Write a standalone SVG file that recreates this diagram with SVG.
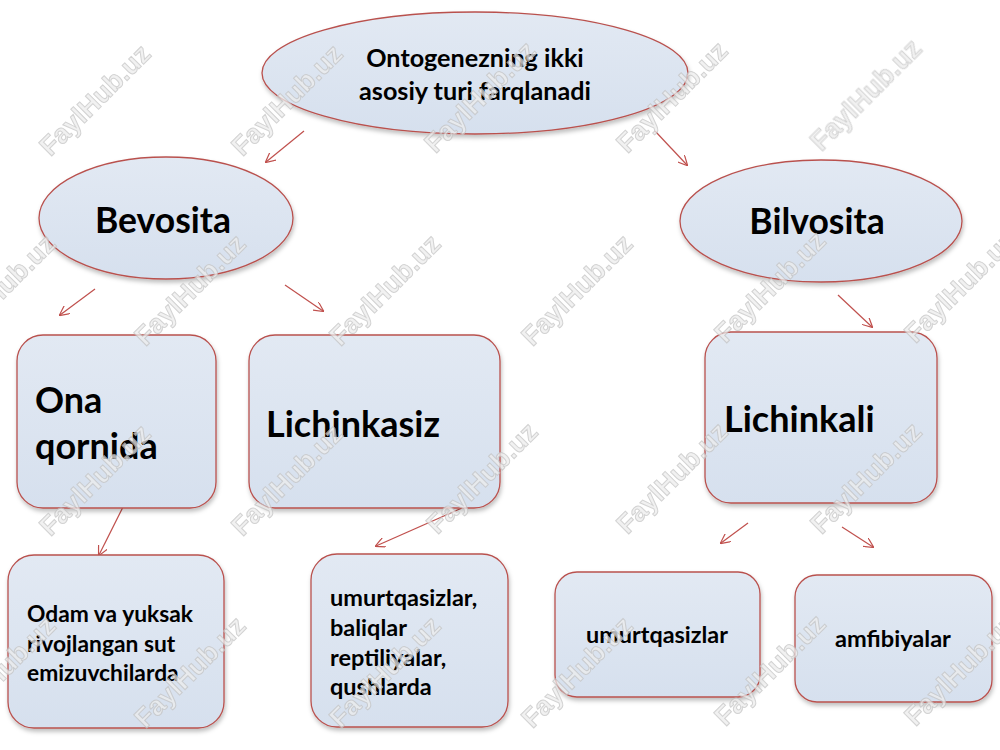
<svg xmlns="http://www.w3.org/2000/svg" width="1000" height="750" viewBox="0 0 1000 750">
<defs>
<linearGradient id="fillg" x1="0" y1="0" x2="0" y2="1">
<stop offset="0" stop-color="#e2e9f3"/>
<stop offset="1" stop-color="#d6e0ee"/>
</linearGradient>
<filter id="sh" x="-10%" y="-10%" width="120%" height="130%">
<feDropShadow dx="1" dy="3" stdDeviation="2" flood-color="#000" flood-opacity="0.25"/>
</filter>
<marker id="arr" viewBox="0 0 10 10" refX="9" refY="5" markerWidth="10" markerHeight="10" markerUnits="userSpaceOnUse" orient="auto">
<path d="M0,0 L10,5 L0,10" fill="none" stroke="#c0504d" stroke-width="1.2"/>
</marker>
<style>
.shape{fill:url(#fillg);stroke:#b9514e;stroke-width:1.3;filter:url(#sh)}
.t{font-family:Lato,"Liberation Sans",sans-serif;font-weight:bold;fill:#000}
.c line{stroke:#c0504d;stroke-width:1.2;marker-end:url(#arr)}
.wm{font-family:"Liberation Sans",Arial,sans-serif;font-weight:bold;font-size:27px;fill:#ececec;stroke:#c4c4c4;stroke-width:1;opacity:0.75}
</style>
</defs>
<rect width="1000" height="750" fill="#fff"/>

<g id="connectors" class="c">
<line x1="304" y1="131" x2="266" y2="162"/>
<line x1="655" y1="131" x2="687" y2="165"/>
<line x1="95" y1="289" x2="60" y2="315"/>
<line x1="285" y1="285" x2="323" y2="311"/>
<line x1="126" y1="501" x2="99" y2="555"/>
<line x1="462" y1="508" x2="376" y2="546"/>
<line x1="838" y1="295" x2="872" y2="327"/>
<line x1="748" y1="523" x2="721" y2="543"/>
<line x1="842" y1="527" x2="873" y2="547"/>
</g>

<g id="root">
<ellipse class="shape" cx="475" cy="73" rx="213" ry="61"/>
<text class="t" font-size="25.2" text-anchor="middle" x="475" y="67">Ontogenezning ikki</text>
<text class="t" font-size="25.2" text-anchor="middle" x="475" y="100">asosiy turi farqlanadi</text>
</g>

<g id="bevosita">
<ellipse class="shape" cx="166" cy="218" rx="127" ry="61"/>
<text class="t" font-size="35.5" text-anchor="middle" x="163" y="233">Bevosita</text>
</g>

<g id="bilvosita">
<ellipse class="shape" cx="821" cy="221" rx="141" ry="61"/>
<text class="t" font-size="35.5" text-anchor="middle" x="817" y="234">Bilvosita</text>
</g>

<g id="ona-qornida">
<rect class="shape" x="17" y="335" width="199" height="173" rx="26"/>
<text class="t" font-size="36" x="35" y="413">Ona</text>
<text class="t" font-size="36" x="35" y="459">qornida</text>
</g>

<g id="lichinkasiz">
<rect class="shape" x="249" y="335" width="251" height="173" rx="26"/>
<text class="t" font-size="36" x="266" y="437">Lichinkasiz</text>
</g>

<g id="lichinkali">
<rect class="shape" x="705" y="332" width="232" height="171" rx="26"/>
<text class="t" font-size="36" x="724" y="432">Lichinkali</text>
</g>

<g id="odam">
<rect class="shape" x="8" y="555" width="216" height="173" rx="26"/>
<text class="t" font-size="22.8" x="27" y="622">Odam va yuksak</text>
<text class="t" font-size="22.8" x="27" y="652">rivojlangan sut</text>
<text class="t" font-size="22.8" x="27" y="681">emizuvchilarda</text>
</g>

<g id="umurtqasizlar-baliqlar">
<rect class="shape" x="311" y="554" width="197" height="173" rx="26"/>
<text class="t" font-size="23.5" x="330" y="606">umurtqasizlar,</text>
<text class="t" font-size="23.5" x="330" y="636">baliqlar</text>
<text class="t" font-size="23.5" x="330" y="666">reptiliyalar,</text>
<text class="t" font-size="23.5" x="330" y="695">qushlarda</text>
</g>

<g id="umurtqasizlar">
<rect class="shape" x="555" y="572" width="205" height="125" rx="22"/>
<text class="t" font-size="23.4" text-anchor="middle" x="657" y="643">umurtqasizlar</text>
</g>

<g id="amfibiyalar">
<rect class="shape" x="795" y="575" width="197" height="127" rx="22"/>
<text class="t" font-size="23.6" text-anchor="middle" x="893" y="647">amfibiyalar</text>
</g>

<g id="watermark" class="wm" text-anchor="middle">
<text transform="translate(95,100) rotate(-45)" y="9">FaylHub.uz</text>
<text transform="translate(287,100) rotate(-45)" y="9">FaylHub.uz</text>
<text transform="translate(480,97) rotate(-45)" y="9">FaylHub.uz</text>
<text transform="translate(672,97) rotate(-45)" y="9">FaylHub.uz</text>
<text transform="translate(866,95) rotate(-45)" y="9">FaylHub.uz</text>
<text transform="translate(0,290) rotate(-45)" y="9">FaylHub.uz</text>
<text transform="translate(190,290) rotate(-45)" y="9">FaylHub.uz</text>
<text transform="translate(385,290) rotate(-45)" y="9">FaylHub.uz</text>
<text transform="translate(577,290) rotate(-45)" y="9">FaylHub.uz</text>
<text transform="translate(770,287) rotate(-45)" y="9">FaylHub.uz</text>
<text transform="translate(960,287) rotate(-45)" y="9">FaylHub.uz</text>
<text transform="translate(95,480) rotate(-45)" y="9">FaylHub.uz</text>
<text transform="translate(287,480) rotate(-45)" y="9">FaylHub.uz</text>
<text transform="translate(482,478) rotate(-45)" y="9">FaylHub.uz</text>
<text transform="translate(672,478) rotate(-45)" y="9">FaylHub.uz</text>
<text transform="translate(866,478) rotate(-45)" y="9">FaylHub.uz</text>
<text transform="translate(0,672) rotate(-45)" y="9">FaylHub.uz</text>
<text transform="translate(190,672) rotate(-45)" y="9">FaylHub.uz</text>
<text transform="translate(385,672) rotate(-45)" y="9">FaylHub.uz</text>
<text transform="translate(577,672) rotate(-45)" y="9">FaylHub.uz</text>
<text transform="translate(770,670) rotate(-45)" y="9">FaylHub.uz</text>
<text transform="translate(960,670) rotate(-45)" y="9">FaylHub.uz</text>
</g>
</svg>
